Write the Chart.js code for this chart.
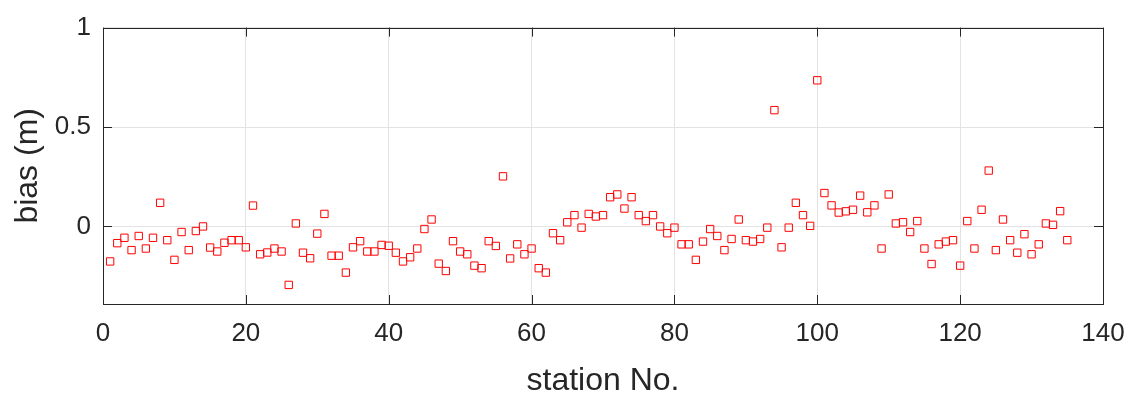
<!DOCTYPE html>
<html>
<head>
<meta charset="utf-8">
<script src="https://cdn.jsdelivr.net/npm/chart.js@4"></script>
<style>
  html, body { margin: 0; padding: 0; background: #fff; }
  #wrap { width: 1133px; height: 393px; }
</style>
</head>
<body>
<div id="wrap"><canvas id="biasChart" width="1133" height="393"></canvas></div>
<script>
// bias per station (m)
const bias = [
  -0.176, -0.084, -0.057, -0.119, -0.048, -0.111, -0.057, 0.119, -0.069, -0.168,
  -0.028, -0.119, -0.023, 0.000, -0.106, -0.126, -0.082, -0.069, -0.069, -0.105,
  0.105, -0.140, -0.131, -0.111, -0.126, -0.294, 0.015, -0.132, -0.160, -0.036,
  0.063, -0.147, -0.147, -0.232, -0.105, -0.074, -0.126, -0.126, -0.093, -0.097,
  -0.132, -0.176, -0.155, -0.111, -0.013, 0.035, -0.187, -0.224, -0.074, -0.126,
  -0.140, -0.197, -0.210, -0.074, -0.098, 0.252, -0.161, -0.090, -0.140, -0.111,
  -0.210, -0.232, -0.034, -0.069, 0.021, 0.057, -0.006, 0.063, 0.050, 0.057,
  0.147, 0.161, 0.090, 0.147, 0.057, 0.027, 0.057, 0.000, -0.034, -0.006,
  -0.090, -0.090, -0.168, -0.076, -0.013, -0.048, -0.119, -0.063, 0.035, -0.069,
  -0.076, -0.063, -0.006, 0.585, -0.105, -0.006, 0.119, 0.057, 0.003, 0.735,
  0.168, 0.106, 0.070, 0.076, 0.084, 0.155, 0.071, 0.106, -0.111, 0.161,
  0.015, 0.021, -0.028, 0.027, -0.111, -0.189, -0.090, -0.076, -0.069, -0.197,
  0.027, -0.111, 0.084, 0.281, -0.119, 0.035, -0.069, -0.132, -0.039, -0.140,
  -0.090, 0.015, 0.008, 0.077, -0.069
]
const yTicks = [0, 0.5, 1]
const xTicks = [0, 20, 40, 60, 80, 100, 120, 140]

const INK = '#262626'
const FONT = 'Liberation Sans, Arial, sans-serif'

// box around the axes plus inward ticks, matlab style
const axesBox = {
  id: 'axesBox',
  afterDraw(chart) {
    const { ctx, chartArea: a, scales } = chart
    const len = 9
    ctx.save()
    ctx.strokeStyle = INK
    ctx.lineWidth = 1
    ctx.beginPath()
    xTicks.forEach(v => {
      const px = Math.round(scales.x.getPixelForValue(v)) + 0.5
      ctx.moveTo(px, a.bottom); ctx.lineTo(px, a.bottom - len)
      ctx.moveTo(px, a.top); ctx.lineTo(px, a.top + len)
    })
    yTicks.forEach(v => {
      const py = Math.round(scales.y.getPixelForValue(v)) + 0.5
      ctx.moveTo(a.left, py); ctx.lineTo(a.left + len, py)
      ctx.moveTo(a.right, py); ctx.lineTo(a.right - len, py)
    })
    ctx.stroke()
    ctx.strokeRect(Math.round(a.left) + 0.5, Math.round(a.top) + 0.5,
      Math.round(a.right - a.left), Math.round(a.bottom - a.top))
    ctx.restore()
  }
}

new Chart(document.getElementById('biasChart'), {
  type: 'scatter',
  data: {
    datasets: [{
      data: bias.map((b, i) => ({ x: i + 1, y: b })),
      pointStyle: 'rect',
      pointRadius: 5.2,
      pointBorderWidth: 1,
      borderColor: '#ff0000',
      backgroundColor: 'rgba(0,0,0,0)',
      pointHoverRadius: 5.2,
    }]
  },
  options: {
    responsive: false,
    animation: false,
    layout: { padding: { left: 0, right: 30, top: 17, bottom: 0 } },
    plugins: { legend: { display: false }, tooltip: { enabled: false } },
    scales: {
      x: {
        type: 'linear',
        min: 0,
        max: 140,
        afterFit: s => {
          s.height = 89
          s.paddingLeft = 0
          s.paddingRight = 0
        },
        afterBuildTicks: s => { s.ticks = xTicks.map(v => ({ value: v })) },
        grid: { color: '#e3e3e3', drawTicks: false },
        border: { display: false },
        ticks: {
          padding: 14,
          color: INK,
          font: { family: FONT, size: 26 },
          callback: v => String(v),
        },
        title: {
          display: true,
          text: 'station No.',
          color: INK,
          padding: { top: 0, bottom: 0 },
          font: { family: FONT, size: 32, lineHeight: 0.75 },
        },
      },
      y: {
        min: -0.39,
        max: 1,
        afterFit: s => { s.width = 103 },
        afterBuildTicks: s => { s.ticks = yTicks.map(v => ({ value: v })) },
        grid: { color: '#e3e3e3', drawTicks: false },
        border: { display: false },
        ticks: {
          padding: 12,
          color: INK,
          font: { family: FONT, size: 26 },
          callback: v => String(v),
        },
        title: {
          display: true,
          text: 'bias (m)',
          color: INK,
          padding: { top: 9, bottom: 0 },
          font: { family: FONT, size: 32 },
        },
      },
    },
  },
  plugins: [axesBox],
})
</script>
</body>
</html>
